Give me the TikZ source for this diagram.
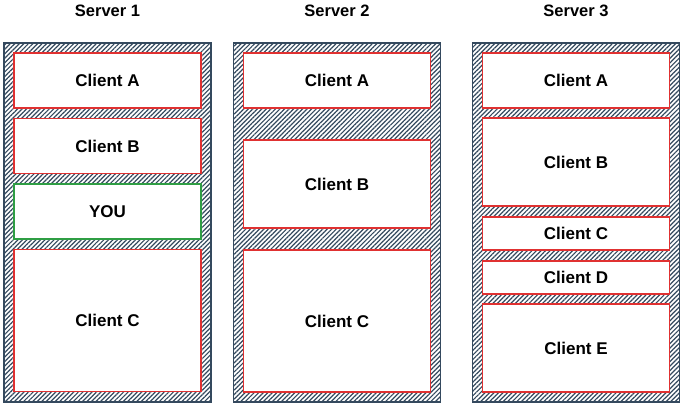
\documentclass[tikz,border=0pt]{standalone}
\usepackage{fontspec}
\setmainfont{Liberation Sans}
\usetikzlibrary{patterns.meta, positioning}

\definecolor{slate}{HTML}{34495E}
\definecolor{clientred}{HTML}{E03131}
\definecolor{yougreen}{HTML}{2F9E44}

\begin{document}
\begin{tikzpicture}[x=1pt, y=-1pt,
        every node/.style={inner sep=0pt, outer sep=0pt, font=\bfseries\fontsize{17}{20}\selectfont},
        server/.style={draw=slate, line width=1.3pt, minimum width=207pt, minimum height=359pt,
            pattern={Lines[angle=45, distance=3.2pt, line width=1.2pt]}, pattern color=slate},
        title/.style={font=\bfseries\fontsize{16.5}{20}\selectfont},
        client/.style={draw=clientred, line width=1.2pt, fill=white, minimum width=187pt},
        you/.style={client, draw=yougreen}
    ]
        \useasboundingbox (0,0) rectangle (685,407);

        % Servers
        \node [server] (S1) at (107.5,222.5) {};
        \node [server] (S2) at (337,222.5) {};
        \node [server] (S3) at (576,222.5) {};

        \node [title, above=26pt of S1] (T1) {Server 1};
        \node [title, above=26pt of S2] (T2) {Server 2};
        \node [title, above=26pt of S3] (T3) {Server 3};

        % Server 1
        \node [client, minimum height=55pt, below=10pt of S1.north, anchor=north] (A1) {Client A};
        \node [client, minimum height=55pt, below=10.5pt of A1] (B1) {Client B};
        \node [you, minimum height=55pt, below=10.5pt of B1] (Y1) {YOU};
        \node [client, minimum height=142pt, below=10.5pt of Y1] (C1) {Client C};

        % Server 2
        \node [client, minimum height=55pt, below=10pt of S2.north, anchor=north] (A2) {Client A};
        \node [client, minimum height=88pt, below=32pt of A2] (B2) {Client B};
        \node [client, minimum height=142pt, below=22pt of B2] (C2) {Client C};

        % Server 3
        \node [client, minimum height=55pt, below=10pt of S3.north, anchor=north] (A3) {Client A};
        \node [client, minimum height=88pt, below=10pt of A3] (B3) {Client B};
        \node [client, minimum height=33pt, below=11pt of B3] (C3) {Client C};
        \node [client, minimum height=33pt, below=11pt of C3] (D3) {Client D};
        \node [client, minimum height=88pt, below=10pt of D3] (E3) {Client E};
    \end{tikzpicture}
\end{document}
